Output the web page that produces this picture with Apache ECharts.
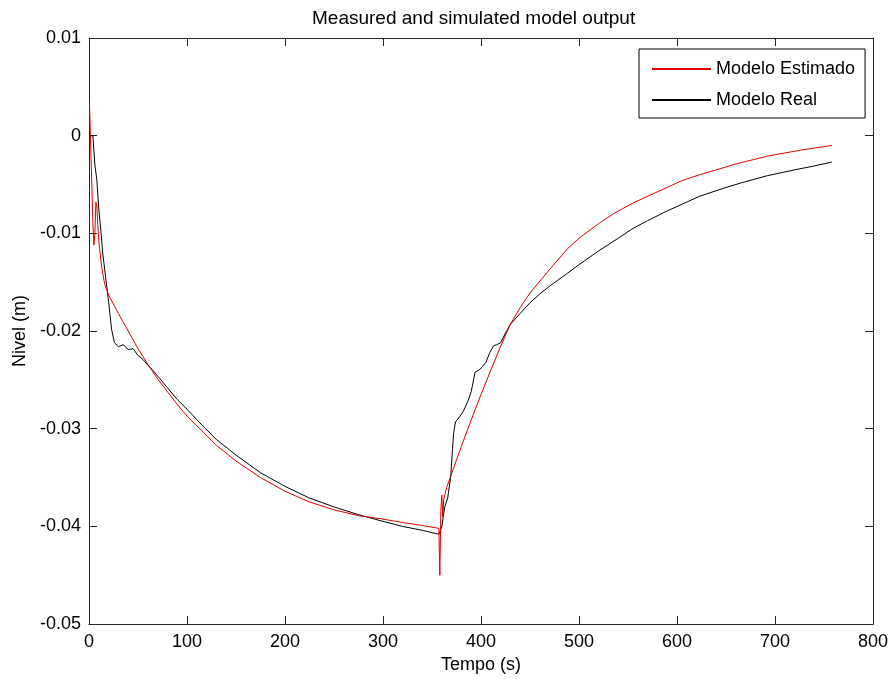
<!DOCTYPE html>
<html>
<head>
<meta charset="utf-8">
<script src="https://cdn.jsdelivr.net/npm/echarts@6/dist/echarts.min.js"></script>
<style>
  html, body { margin: 0; padding: 0; background: #fff; }
  #chart { width: 892px; height: 679px; }
</style>
</head>
<body>
<div id="chart"></div>
<script>
// Estimated model response (time in s, level in m)
const estTime = [0.5, 2, 4, 5, 6, 7, 8, 9, 10, 11, 13, 16, 20, 30, 40, 50, 60, 70, 80, 90,
  100, 115, 130, 150, 175, 200, 225, 250, 275, 297, 320, 340, 357, 358, 359, 360, 361, 362, 365, 370,
  380, 390, 400, 410, 419, 430, 440, 450, 470, 488, 500, 520, 535, 555, 570, 590, 605, 623, 640, 660,
  692, 725, 758];
const estLevel = [0.0034, -0.002, -0.009, -0.0112, -0.0100, -0.0068, -0.0072, -0.0092, -0.0108, -0.0110,
  -0.0135, -0.0152, -0.0163, -0.0182, -0.0200, -0.0218, -0.0234, -0.0249, -0.0262, -0.0275,
  -0.0287, -0.0302, -0.0317, -0.0333, -0.0350, -0.0364, -0.0375, -0.0383, -0.0389, -0.0392,
  -0.0396, -0.0399, -0.0402, -0.0450, -0.0385, -0.0368, -0.0390, -0.0372, -0.0360, -0.0346,
  -0.0318, -0.0291, -0.0265, -0.0240, -0.0218, -0.0193, -0.0176, -0.0161, -0.0137, -0.0116,
  -0.0105, -0.0090, -0.0080, -0.0069, -0.0062, -0.0053, -0.0046, -0.0040, -0.0035, -0.0029,
  -0.0021, -0.0015, -0.0010];

// Measured (real) response
const realTime = [0, 4, 6, 8, 10, 12, 14, 16, 20, 23, 26, 30, 35, 40, 45, 50, 55, 60, 65, 70,
  80, 90, 100, 115, 130, 150, 175, 200, 225, 250, 275, 297, 320, 340, 357, 358, 360, 363, 366, 369,
  371, 372, 374, 376, 378, 380, 382, 384, 387, 390, 394, 398, 401, 405, 409, 413, 416, 420, 425, 430,
  440, 450, 460, 470, 488, 500, 520, 540, 555, 570, 590, 610, 623, 650, 670, 692, 720, 740, 758];
const realLevel = [0, 0, -0.003, -0.0045, -0.0075, -0.0096, -0.0120, -0.0137, -0.0170, -0.0198,
  -0.0212, -0.0216, -0.0214, -0.0219, -0.0218, -0.0225, -0.0229, -0.0235, -0.0240, -0.0246,
  -0.0258, -0.0270, -0.0280, -0.0296, -0.0311, -0.0327, -0.0345, -0.0359, -0.0371, -0.0380,
  -0.0388, -0.0394, -0.0400, -0.0404, -0.0408, -0.0409, -0.0400, -0.0380, -0.0371, -0.0350,
  -0.0320, -0.0305, -0.0293, -0.0295, -0.0288, -0.0286, -0.0282, -0.0283, -0.0271, -0.0262,
  -0.0242, -0.0240, -0.0237, -0.0232, -0.0222, -0.0215, -0.0214, -0.0212, -0.0202, -0.0193,
  -0.0182, -0.0171, -0.0162, -0.0154, -0.0141, -0.0132, -0.0118, -0.0105, -0.0095, -0.0087,
  -0.0077, -0.0068, -0.0062, -0.0053, -0.0047, -0.0041, -0.0035, -0.0031, -0.0027];

const seriesNames = ['Modelo Estimado', 'Modelo Real'];
const xTicks = { min: 0, max: 800, step: 100 };
const yTicks = { min: -0.05, max: 0.01, step: 0.01 };

const FONT = '"Liberation Sans", Arial, sans-serif';
const AX = '#262626';

const pairs = (t, v) => t.map((x, i) => [x, v[i]]);

// Axis frame shared by all four sides: inward ticks, no grid lines
const boxAxis = (extra) => Object.assign({
  type: 'value',
  axisLine: { show: true, onZero: false, lineStyle: { color: AX, width: 1 } },
  axisTick: { show: true, inside: true, length: 8, lineStyle: { color: AX } },
  splitLine: { show: false },
  axisLabel: { show: false }
}, extra);

const chart = echarts.init(document.getElementById('chart'), null, { renderer: 'canvas' });
chart.setOption({
  animation: false,
  backgroundColor: '#fff',
  title: {
    text: 'Measured and simulated model output',
    left: 312, top: 9, padding: 0,
    textStyle: { fontFamily: FONT, fontSize: 19, fontWeight: 'normal', color: '#000' }
  },
  legend: {
    orient: 'vertical',
    left: 639, top: 49,
    padding: [11, 10, 9, 12],
    itemWidth: 59, itemHeight: 14, itemGap: 13,
    borderColor: '#000', borderWidth: 1,
    backgroundColor: '#fff',
    itemStyle: { opacity: 0 },
    textStyle: { fontFamily: FONT, fontSize: 18, color: '#000' },
    data: seriesNames
  },
  grid: { left: 89, right: 19, top: 38, bottom: 53, containLabel: false },
  xAxis: [
    boxAxis({
      position: 'bottom', min: xTicks.min, max: xTicks.max, interval: xTicks.step,
      name: 'Tempo (s)', nameLocation: 'middle', nameGap: 31,
      nameTextStyle: { fontFamily: FONT, fontSize: 18, color: '#000', verticalAlign: 'middle' },
      axisLabel: { show: true, margin: 9, fontFamily: FONT, fontSize: 18, color: '#000' }
    }),
    boxAxis({ position: 'top', min: xTicks.min, max: xTicks.max, interval: xTicks.step })
  ],
  yAxis: [
    boxAxis({
      position: 'left', min: yTicks.min, max: yTicks.max, interval: yTicks.step,
      name: 'Nivel (m)', nameLocation: 'middle', nameGap: 60,
      nameTextStyle: { fontFamily: FONT, fontSize: 18, color: '#000' },
      axisLabel: {
        show: true, margin: 8, fontFamily: FONT, fontSize: 18, color: '#000',
        formatter: (v) => String(Math.round(v * 100) / 100)
      }
    }),
    boxAxis({ position: 'right', min: yTicks.min, max: yTicks.max, interval: yTicks.step })
  ],
  series: [
    {
      name: seriesNames[0], type: 'line', symbol: 'none', showSymbol: false,
      xAxisIndex: 0, yAxisIndex: 0,
      lineStyle: { color: '#e00000', width: 1 }, itemStyle: { color: '#e00000' },
      data: pairs(estTime, estLevel), z: 3
    },
    {
      name: seriesNames[1], type: 'line', symbol: 'none', showSymbol: false,
      xAxisIndex: 0, yAxisIndex: 0,
      lineStyle: { color: '#000', width: 1 }, itemStyle: { color: '#000' },
      data: pairs(realTime, realLevel), z: 2
    }
  ]
});
</script>
</body>
</html>
